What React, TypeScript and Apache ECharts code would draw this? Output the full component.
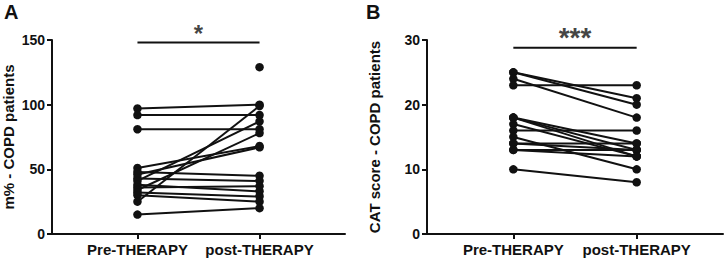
import React, { useEffect, useRef } from 'react';
import * as echarts from 'echarts';

const categories = ['Pre-THERAPY', 'post-THERAPY'];

// Panel A: m% - COPD patients (paired pre/post)
const mPre = [97, 92, 81, 51, 48, 46, 43, 41, 38, 36, 34, 32, 30, 25, 15];
const mPost = [100, 92, 81, 68, 45, 67, 41, 87, 33, 37, 78, 29, 25, 99, 20];
const mPostUnpaired = [129];
const mTicks = [0, 150, 50];
const mSigLevel = 148;
const mSigText = '*';

// Panel B: CAT score - COPD patients (paired pre/post)
const catPre = [25, 25, 24, 23, 18, 18, 18, 17, 16, 15, 14, 14, 13, 13, 10];
const catPost = [21, 20, 18, 23, 13, 12, 14, 12, 16, 10, 14, 13, 13, 12, 8];
const catTicks = [0, 30, 10];
const catSigLevel = 28.8;
const catSigText = '***';

const FONT = 'Liberation Sans, Arial, Helvetica, sans-serif';
const INK = '#111111';

function pairSeries(pre: number[], post: number[], idx: number) {
  return pre.map((p, i) => ({
    type: 'line',
    xAxisIndex: idx,
    yAxisIndex: idx,
    data: [[0, p], [1, post[i]]],
    symbol: 'circle',
    symbolSize: 8.5,
    itemStyle: { color: INK, opacity: 1 },
    lineStyle: { color: INK, width: 2 },
    silent: true,
    z: 3,
  }));
}

function sigSeries(level: number, text: string, idx: number, size: number, off: number) {
  return [
    {
      type: 'line',
      xAxisIndex: idx,
      yAxisIndex: idx,
      data: [[0, level], [1, level]],
      symbol: 'none',
      lineStyle: { color: INK, width: 2 },
      silent: true,
    },
    {
      type: 'scatter',
      xAxisIndex: idx,
      yAxisIndex: idx,
      data: [[0.5, level]],
      symbolSize: 0,
      silent: true,
      label: {
        show: true,
        position: 'top',
        distance: 2,
        offset: [0, off],
        formatter: text,
        fontSize: size,
        fontWeight: 'bold',
        fontFamily: FONT,
        color: INK,
      },
    },
  ];
}

function xAxis(idx: number) {
  return {
    gridIndex: idx,
    type: 'value',
    min: -0.7,
    max: 1.7,
    axisLine: { show: true, onZero: false, lineStyle: { color: INK, width: 2 } },
    axisTick: { show: true, customValues: [0, 1], length: 5, lineStyle: { color: INK, width: 2 } },
    axisLabel: {
      customValues: [0, 1],
      formatter: (v: number) => categories[Math.round(v)],
      fontSize: 15,
      fontWeight: 'bold',
      fontFamily: FONT,
      color: INK,
      margin: 8,
    },
    splitLine: { show: false },
  };
}

function yAxis(idx: number, ticks: number[], name: string, gap: number) {
  return {
    gridIndex: idx,
    type: 'value',
    min: ticks[0],
    max: ticks[1],
    interval: ticks[2],
    name,
    nameLocation: 'middle',
    nameGap: gap,
    nameTextStyle: { fontSize: 15, fontWeight: 'bold', fontFamily: FONT, color: INK },
    axisLine: { show: true, onZero: false, lineStyle: { color: INK, width: 2 } },
    axisTick: { show: true, length: 5, lineStyle: { color: INK, width: 2 } },
    axisLabel: { fontSize: 14, fontWeight: 'bold', fontFamily: FONT, color: INK, margin: 7 },
    splitLine: { show: false },
  };
}

export default function App() {
  const ref = useRef<HTMLDivElement>(null);
  useEffect(() => {
    if (!ref.current) return;
    const chart = echarts.init(ref.current, undefined, { renderer: 'svg' });
    chart.setOption({
      animation: false,
      backgroundColor: '#ffffff',
      grid: [
        { left: 48, right: 381, top: 40, bottom: 28 },
        { left: 427, right: 3, top: 40, bottom: 28 },
      ],
      xAxis: [xAxis(0), xAxis(1)],
      yAxis: [
        yAxis(0, mTicks, 'm% - COPD patients', 36),
        yAxis(1, catTicks, 'CAT score - COPD patients', 45),
      ],
      graphic: [
        { type: 'text', left: 4, top: 2, style: { text: 'A', fontSize: 20, fontWeight: 'bold', fontFamily: FONT, fill: INK } },
        { type: 'text', left: 366, top: 2, style: { text: 'B', fontSize: 20, fontWeight: 'bold', fontFamily: FONT, fill: INK } },
      ],
      series: [
        ...pairSeries(mPre, mPost, 0),
        {
          type: 'scatter',
          xAxisIndex: 0,
          yAxisIndex: 0,
          data: mPostUnpaired.map((v) => [1, v]),
          symbol: 'circle',
          symbolSize: 8.5,
          itemStyle: { color: INK, opacity: 1 },
          silent: true,
        },
        ...sigSeries(mSigLevel, mSigText, 0, 24, 5),
        ...pairSeries(catPre, catPost, 1),
        ...sigSeries(catSigLevel, catSigText, 1, 28, 6),
      ],
    });
    return () => chart.dispose();
  }, []);
  return (
    <div
      ref={ref}
      style={{ position: 'fixed', left: 0, top: 0, width: 726, height: 262, background: '#fff' }}
    />
  );
}
